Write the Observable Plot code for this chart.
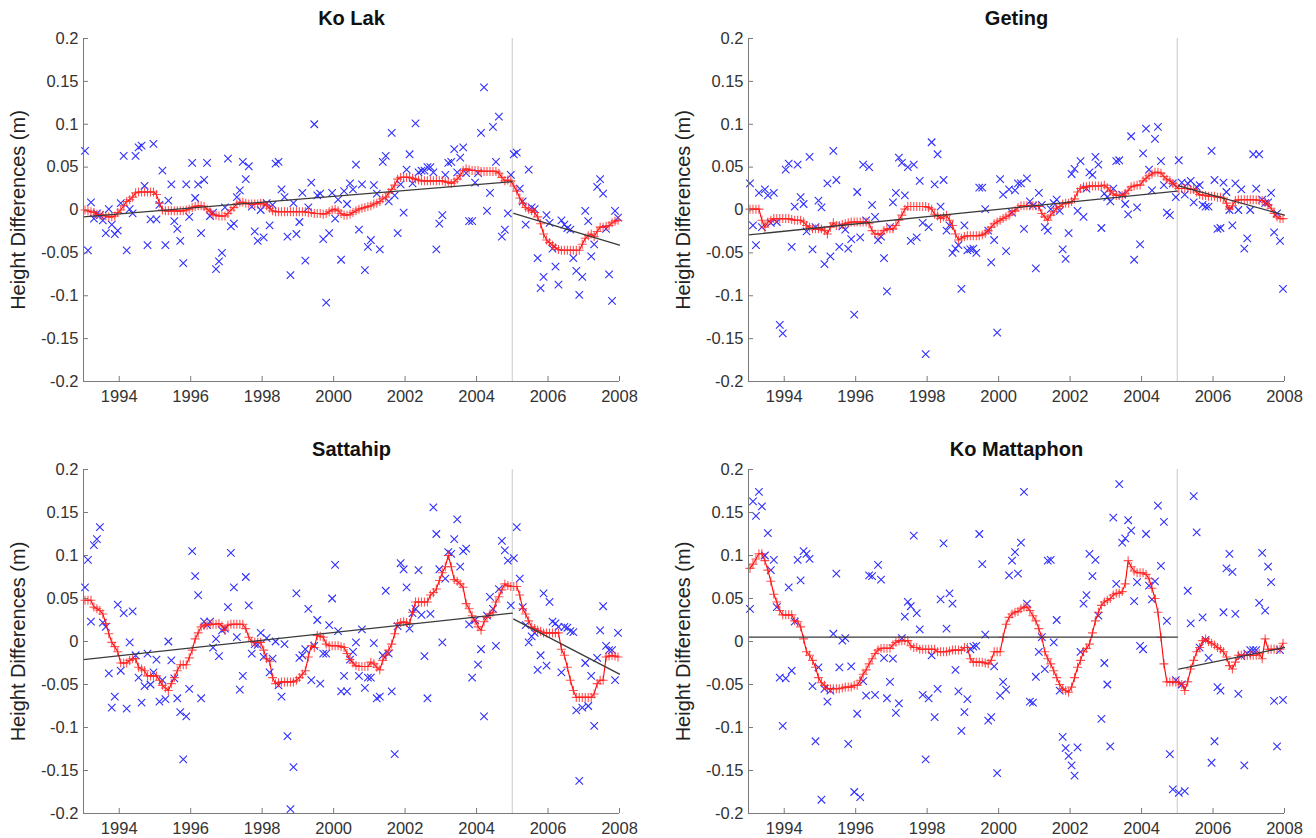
<!DOCTYPE html>
<html><head><meta charset="utf-8">
<script src="https://cdn.jsdelivr.net/npm/d3@7"></script>
<script src="https://cdn.jsdelivr.net/npm/@observablehq/plot@0.6"></script>
<style>
html,body{margin:0;padding:0;background:#fff;}
#root{position:relative;width:1316px;height:838px;overflow:hidden;background:#fff;}
.panel{position:absolute;width:658px;height:419px;}
</style></head><body><div id="root"></div>
<script>
// ---- tick values / labels ----
const xTicks = [1994, 1996, 1998, 2000, 2002, 2004, 2006, 2008];
const yTicks = [0.2, 0.15, 0.1, 0.05, 0, -0.05, -0.1, -0.15, -0.2];
const yLabel = "Height Differences (m)";
const startYear = 1993, endYear = 2008, breakYear = 2005;

// ---- monthly height differences (mm), Jan 1993 .. Dec 2007 ----
const koLakObsMm = [69,-47,9,-10,-4,-6,-12,-27,1,-17, -28,-24,8,63,-47,1,-4,63,73,75, 28,-41,-11,77,-11,6,46,-41,11,30,
 -13,-22,-36,-62,30,-8,55,14,30,-27, 35,55,-7,-3,-69,-60,-50,3,60,-19, -16,15,23,56,36,51,4,-25,-36,0,
 -32,8,-18,6,54,56,24,15,-31,-76, 8,-28,-14,20,-59,3,32,100,17,19, -34,-108,-27,20,-10,12,-58,22,7,31,
 24,53,-23,30,-70,-43,-35,29,19,-46, 56,63,10,90,17,-27,30,-3,47,65, 31,101,44,46,46,50,50,44,-46,-16,
 -6,41,55,56,71,44,61,73,43,-13, -13,32,43,90,143,-1,20,97,56,109, -31,-23,-4,41,65,67,25,10,-17,47,
 3,1,-56,-91,-78,-6,-15,-45,-66,-87, -12,-17,-21,-23,-56,-71,-99,-78,-1,-13, -54,-40,27,36,19,-22,-75,-106,-1,-9];
const koLakFitMm = [0,-1,-2,-3,-5,-6,-6,-7,-8,-8,-7,-3, 0,5,10,12,15,20,21,21,21,21,21,21, 18,8,0,-1,-1,-1,-1,-1,-1,-1,0,1,
 3,4,5,5,4,1,-2,-5,-6,-7,-7,-7, -4,0,3,7,9,9,8,7,7,7,7,8, 7,5,2,-1,-2,-2,-2,-2,-2,-2,-2,-2,
 -2,-2,-2,-3,-3,-4,-4,-4,-5,-4,-2,0, 1,-1,-4,-6,-6,-5,-3,-1,1,2,3,4, 5,7,8,10,13,15,20,24,29,36,38,38,
 38,38,37,36,35,34,34,34,34,34,34,34, 34,33,32,31,33,36,40,46,48,47,46,46, 46,45,45,45,45,45,45,43,38,34,35,34,
 28,22,14,8,3,1,-1,-3,-8,-16,-28,-35, -38,-41,-44,-46,-47,-47,-47,-47,-47,-47,-47,-40, -33,-30,-28,-31,-25,-20,-20,-19,-18,-15,-13,-12];
const koLakTrend = [-0.008, 0.033, -0.004, -0.041];

const getingObsMm = [31,-18,-41,20,-20,24,17,-15,20,-14, -134,-144,47,54,-43,4,53,15,7,-25, 62,-46,-20,11,3,-63,31,-54,69,35,
 -43,-19,-23,-45,-34,-122,21,-32,53,-12, 50,6,-8,-35,-31,-56,-95,-20,9,20, 61,55,17,50,-36,53,-32,34,-15,-168,
 -20,79,30,65,4,35,-24,-18,-50,-45, -41,-92,-18,-47,-46,-45,-50,26,26,1, -24,-61,-35,-143,36,18,-48,24,-3,23,
 31,31,-22,37,10,5,-68,20,6,-20, -24,1,8,12,-1,-46,-57,-27,42,48, -1,57,-8,25,44,41,62,53,-21,19,
 15,10,25,57,58,18,7,-5,86,-58, 3,-40,66,95,47,23,83,97,57,29, -3,-6,31,15,58,32,18,31,34,9,
 27,29,6,4,4,69,35,-22,-21,32, 21,0,-18,31,0,24,-45,-33,0,65, 25,65,12,8,9,20,-26,-4,-36,-92];
const getingFitMm = [1,1,1,1,-12,-20,-14,-12,-10,-10,-10,-10, -10,-10,-11,-12,-12,-12,-14,-18,-20,-22,-22,-22,
 -22,-24,-28,-20,-15,-18,-18,-17,-16,-15,-14,-14, -14,-14,-14,-14,-16,-24,-28,-28,-28,-24,-22,-22,
 -22,-18,-12,-6,1,4,4,4,4,4,4,4, 3,1,-5,-7,-10,-8,-6,-12,-18,-28,-35,-33, -31,-30,-30,-30,-30,-30,-29,-27,-24,-20,-16,-14,
 -12,-10,-8,-6,-2,-1,3,5,5,5,5,5, 5,4,-4,-8,-12,-6,-2,2,4,7,8,8, 10,13,21,25,27,27,28,28,28,28,28,29,
 26,22,19,17,17,17,19,23,27,28,29,29, 34,37,40,42,44,44,43,39,36,34,31,28, 25,25,25,25,24,24,21,18,17,17,16,16,
 16,15,15,14,8,1,5,11,12,12,12,12, 12,12,12,11,11,9,6,2,-4,-8,-10,-10];
const getingTrend = [-0.029, 0.022, 0.028, -0.006];

const sattahipObsMm = [63,95,23,112,119,133,22,17,-37,-77, -64,43,-34,33,-78,-1,35,-16,-42,-71, -52,-14,-50,-36,-21,-70,-45,-67,0,-22,
 -43,-66,-82,-137,-87,-55,105,76,54,-66, 23,19,23,-7,3,-17,13,15,40,103, 63,5,-56,-40,75,42,-14,-3,-4,10,
 -18,4,-36,-20,0,-51,-64,-3,-110,-195, -146,56,-19,-16,-9,38,-45,-5,25,-49, -14,-14,19,50,89,12,-58,-40,-58,-21,
 -12,-1,-40,14,-54,-42,-42,-2,-66,-64, -16,59,-14,-58,-131,18,91,84,63,15, 33,38,83,31,-17,-66,32,156,125,84,
 -1,73,104,102,119,142,87,105,108,20, -42,25,-27,-9,-87,30,52,38,-5,61, 117,106,94,42,97,133,73,40,19,-1,
 6,10,-33,-16,56,-28,46,23,21,17, -36,17,16,12,11,-80,-162,-77,-25,-75, -40,-98,-19,13,41,-5,-10,-10,-45,10];
const sattahipFitMm = [48,48,48,40,38,36,32,21,9,-1,-6,-12, -25,-25,-25,-22,-20,-20,-30,-32,-34,-40,-40,-40,
 -40,-45,-51,-54,-57,-49,-42,-34,-27,-27,-27,-19, -10,3,10,17,19,19,20,20,20,21,18,13, 19,20,20,20,20,20,15,5,0,-1,-1,-1,
 -10,-20,-23,-42,-49,-48,-47,-47,-47,-47,-47,-45, -42,-38,-34,-18,-5,-7,7,6,5,-3,-5,-5, -5,-5,-6,-7,-14,-21,-25,-28,-29,-29,-29,-29,
 -24,-26,-30,-33,-22,-16,-10,-3,9,21,22,23, 22,21,34,46,46,46,46,46,54,57,61,71, 80,87,100,87,72,70,67,63,44,38,30,24,
 17,13,23,28,32,34,46,52,60,67,65,64, 64,64,54,38,32,24,17,15,13,12,10,10, 10,10,10,10,-9,-16,-30,-45,-57,-65,-65,-65,
 -65,-65,-65,-61,-49,-45,-45,-18,-17,-16,-17,-18];
const sattahipTrend = [-0.021, 0.033, 0.026, -0.038];

const koMattaphonObsMm = [38,163,146,174,157,100,126,83,95,40, -42,-98,-43,63,-34,23,95,71,105,102, 96,-52,-116,-30,-184,-55,-70,-57,9,79,
 -30,1,4,-119,-29,-175,-84,-181,-46,-63, 77,76,-62,89,72,-19,-66,-47,-20,-83, -72,4,29,46,41,123,33,14,-62,-137,
 -66,-16,-88,-55,49,114,15,56,44,-33, -58,-104,-82,-67,-9,-6,-5,125,90,8, -92,-88,-29,-153,-63,-47,-56,77,94,104,
 79,115,174,44,-70,-71,-41,-12,5,-32, 94,95,-1,25,-57,-111,-124,-133,-144,-156, -123,-12,44,54,102,76,95,30,-90,-25,
 -50,-122,144,67,183,115,120,141,129,47, 69,-5,-9,125,65,49,70,158,88,139, 24,-131,-172,-45,-176,-50,-174,59,21,169,
 127,-7,28,2,-19,-141,-116,-53,-57,34, 85,102,81,32,-61,-17,-144,-14,-10,-10, -10,45,103,36,87,69,-69,-122,-10,-68];
const koMattaphonFitMm = [85,90,96,102,102,94,83,70,55,46,36,31, 31,31,31,24,23,17,3,-12,-16,-22,-30,-42,
 -48,-51,-55,-55,-55,-55,-55,-54,-53,-53,-53,-51, -51,-45,-38,-33,-26,-20,-14,-10,-8,-8,-8,-8,
 -4,-1,1,1,1,1,-5,-7,-7,-9,-9,-9, -9,-9,-9,-12,-12,-12,-12,-11,-10,-10,-10,-10, -7,-7,-20,-24,-24,-24,-24,-25,-26,-22,-12,-12,
 -12,5,20,28,32,34,35,38,40,40,36,30, 24,15,5,-12,-20,-26,-34,-42,-50,-55,-57,-59, -53,-42,-30,-22,-12,-8,-3,10,24,34,42,46,
 48,50,54,56,56,58,67,94,87,82,80,80, 80,78,73,62,50,34,5,-26,-47,-47,-47,-47, -48,-50,-57,-47,-32,-22,-12,-7,1,3,0,-2,
 -4,-7,-9,-12,-18,-28,-32,-24,-16,-16,-16,-16, -16,-16,-16,-14,-20,3,-9,-9,-9,-9,-9,-2];
const koMattaphonTrend = [0.005, 0.005, -0.032, -0.007];

const stations = [
  {name: "Ko Lak", obs: koLakObsMm, fit: koLakFitMm, trend: koLakTrend},
  {name: "Geting", obs: getingObsMm, fit: getingFitMm, trend: getingTrend},
  {name: "Sattahip", obs: sattahipObsMm, fit: sattahipFitMm, trend: sattahipTrend},
  {name: "Ko Mattaphon", obs: koMattaphonObsMm, fit: koMattaphonFitMm, trend: koMattaphonTrend}
];

// layout of the 2x2 grid
const layout = [
  {left: 0,   top: 0,   ml: 83, mr: 39, mt: 38, mb: 38},
  {left: 658, top: 0,   ml: 90, mr: 32, mt: 38, mb: 38},
  {left: 0,   top: 419, ml: 83, mr: 39, mt: 50, mb: 25},
  {left: 658, top: 419, ml: 90, mr: 32, mt: 50, mb: 25}
];

const monthT = i => startYear + (i + 0.5) / 12;
const W = 658, H = 419;
const axisColor = "#7a7a7a";
const font = "'Liberation Sans', Arial, Helvetica, sans-serif";

const root = document.getElementById("root");
stations.forEach((st, k) => {
  const L = layout[k];
  const obsRows = st.obs.map((v, i) => ({t: monthT(i), v: v / 1000}));
  const fitRows = st.fit.map((v, i) => ({t: monthT(i), v: v / 1000}));
  const trendRows = [
    {t: startYear, v: st.trend[0], s: "a"}, {t: breakYear, v: st.trend[1], s: "a"},
    {t: breakYear + 0.04, v: st.trend[2], s: "b"}, {t: endYear, v: st.trend[3], s: "b"}
  ];
  const fw = W - L.ml - L.mr, fh = H - L.mt - L.mb;
  const svg = Plot.plot({
    width: W, height: H,
    marginLeft: L.ml, marginRight: L.mr, marginTop: L.mt, marginBottom: L.mb,
    style: {fontFamily: font, fontSize: "16.5px", color: "#333", background: "transparent", overflow: "visible"},
    x: {domain: [startYear, endYear]},
    y: {domain: [-0.2, 0.2]},
    marks: [
      Plot.ruleX([breakYear], {stroke: "#d2d2d2", strokeWidth: 1.2}),
      Plot.dot(obsRows, {x: "t", y: "v", symbol: "times", r: 3.5, stroke: "#3030ff", strokeWidth: 1.1}),
      Plot.line(fitRows, {x: "t", y: "v", stroke: "#ff0000", strokeWidth: 1.1}),
      Plot.dot(fitRows, {x: "t", y: "v", symbol: "plus", r: 3.0, stroke: "#ff2626", strokeOpacity: 0.8, strokeWidth: 1.1}),
      Plot.line(trendRows, {x: "t", y: "v", z: "s", stroke: "#3a3a3a", strokeWidth: 1.3}),
      Plot.ruleX([startYear], {stroke: axisColor}),
      Plot.ruleY([-0.2], {stroke: axisColor}),
      Plot.tickX(xTicks, {x: d => d, stroke: axisColor, insetTop: fh - 5}),
      Plot.tickY(yTicks, {y: d => d, stroke: axisColor, insetRight: fw - 5}),
      Plot.axisX({ticks: xTicks, tickSize: 0, tickPadding: 9, tickFormat: d => String(d), label: null, fill: "#333", fontSize: 16.5}),
      Plot.axisY({ticks: yTicks, tickSize: 0, tickPadding: 5, tickFormat: d => String(d), label: null, fill: "#333", fontSize: 16.5}),
      Plot.text([st.name], {frameAnchor: "top", lineAnchor: "middle", textAnchor: "middle", dy: -20, fontWeight: "bold", fontSize: 20, fill: "#111"}),
      Plot.text([yLabel], {frameAnchor: "left", lineAnchor: "middle", textAnchor: "middle", rotate: -90, dx: -65, fontSize: 20, fill: "#222"})
    ]
  });
  const div = document.createElement("div");
  div.className = "panel";
  div.style.left = L.left + "px";
  div.style.top = L.top + "px";
  div.appendChild(svg);
  root.appendChild(div);
});
</script>
</body></html>
